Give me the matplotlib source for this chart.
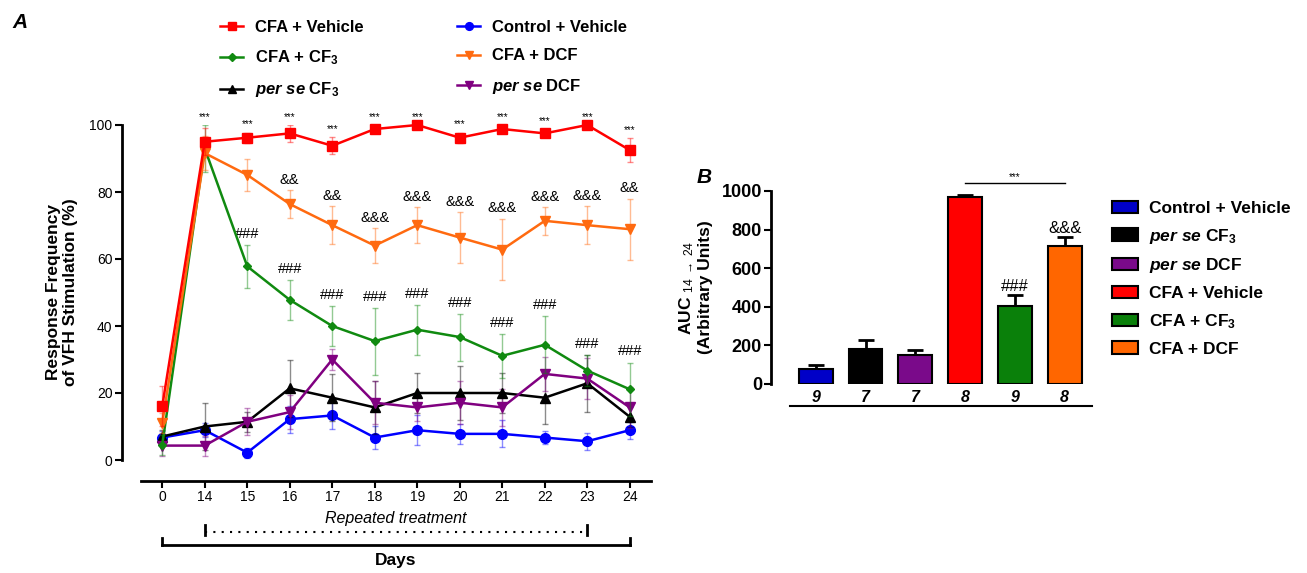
import numpy as np
import matplotlib
matplotlib.use("Agg")
import matplotlib.pyplot as plt
import matplotlib.transforms as mtransforms
from matplotlib.lines import Line2D
from matplotlib.patches import Patch

plt.rcParams['font.family'] = ['Liberation Sans', 'DejaVu Sans']
plt.rcParams['mathtext.fontset'] = 'custom'
plt.rcParams['mathtext.rm'] = 'Liberation Sans'
plt.rcParams['mathtext.it'] = 'Liberation Sans:italic'
plt.rcParams['mathtext.bf'] = 'Liberation Sans:bold'
plt.rcParams['mathtext.bfit'] = 'Liberation Sans:italic:bold'

# ---- panel A data ----
days = ['0', '14', '15', '16', '17', '18', '19', '20', '21', '22', '23', '24']

cfa_veh = [16.1, 95.0, 96.2, 97.5, 93.8, 98.8, 100.0, 96.2, 98.8, 97.5, 100.0, 92.5]
cfa_veh_err = [6.0, 4.0, 1.5, 2.5, 2.5, 1.2, 0.0, 1.5, 1.2, 1.2, 0.0, 3.5]

cfa_dcf = [11.0, 91.6, 85.1, 76.4, 70.1, 64.0, 70.1, 66.4, 62.8, 71.4, 70.1, 68.9]
cfa_dcf_err = [3.0, 5.0, 4.7, 4.2, 5.6, 5.2, 5.4, 7.6, 9.2, 4.1, 5.6, 9.1]

cfa_cf3 = [4.5, 93.0, 57.8, 47.8, 40.0, 35.5, 38.9, 36.7, 31.1, 34.4, 26.7, 21.1]
cfa_cf3_err = [3.0, 7.0, 6.5, 6.0, 6.0, 10.0, 7.5, 7.0, 6.5, 8.5, 4.5, 8.0]

perse_cf3 = [7.0, 10.0, 11.4, 21.4, 18.6, 15.7, 20.0, 20.0, 20.0, 18.6, 22.9, 12.9]
perse_cf3_err = [2.0, 7.0, 3.0, 8.5, 7.0, 8.0, 6.0, 8.0, 6.0, 8.0, 8.5, 3.0]

perse_dcf = [4.3, 4.3, 11.4, 14.3, 30.0, 17.1, 15.7, 17.1, 15.7, 25.7, 24.3, 15.7]
perse_dcf_err = [3.0, 3.0, 4.0, 5.0, 3.0, 6.5, 4.0, 6.5, 5.5, 5.0, 6.0, 6.0]

ctrl_veh = [6.7, 8.9, 2.2, 12.2, 13.3, 6.7, 8.9, 7.8, 7.8, 6.7, 5.6, 8.9]
ctrl_veh_err = [2.0, 2.0, 1.5, 4.0, 4.0, 3.5, 4.5, 3.0, 4.0, 2.0, 2.5, 2.5]

sig_veh = [''] + ['***'] * 11
sig_dcf = ['', '', '', '&&', '&&', '&&&', '&&&', '&&&', '&&&', '&&&', '&&&', '&&']
sig_cf3 = ['', ''] + ['###'] * 10

# ---- panel B data ----
groups = ['Control + Vehicle', r'$\mathbfit{per\ se}$ CF$_\mathbf{3}$', r'$\mathbfit{per\ se}$ DCF',
          'CFA + Vehicle', r'CFA + CF$_\mathbf{3}$', 'CFA + DCF']
auc = [80, 180, 150, 970, 405, 715]
auc_err = [18, 50, 25, 10, 55, 45]
n_per_group = ['9', '7', '7', '8', '9', '8']
bar_colors = ['#0000C8', '#000000', '#7A0A8A', '#FF0000', '#0A800A', '#FF6600']

fig = plt.figure(figsize=(13.07, 5.73), dpi=100)

# ================= Panel A =================
ax = fig.add_axes([141 / 1307, 113 / 573, 510 / 1307, 335 / 573])
x = np.arange(len(days))

series = [
    (cfa_veh, cfa_veh_err, '#FF0000', 's', 7, 'CFA + Vehicle'),
    (cfa_cf3, cfa_cf3_err, '#108A10', 'D', 4.5, r'CFA + CF$_\mathbf{3}$'),
    (perse_cf3, perse_cf3_err, '#000000', '^', 6.5, r'$\mathbfit{per\ se}$ CF$_\mathbf{3}$'),
    (ctrl_veh, ctrl_veh_err, '#0000FF', 'o', 7, 'Control + Vehicle'),
    (cfa_dcf, cfa_dcf_err, '#FF6A10', 'v', 7.5, 'CFA + DCF'),
    (perse_dcf, perse_dcf_err, '#800080', 'v', 6.5, r'$\mathbfit{per\ se}$ DCF'),
]
order_z = {'#FF0000': 6, '#FF6A10': 5, '#108A10': 4, '#800080': 3, '#000000': 3, '#0000FF': 2}
handles = []
for vals, errs, col, mk, ms, lab in series:
    z = order_z[col]
    ax.errorbar(x, vals, yerr=errs, fmt='none', ecolor=col, alpha=0.45,
                elinewidth=1, capsize=2, capthick=1, zorder=z)
    ax.plot(x, vals, color=col, lw=1.8, marker=mk, ms=ms, zorder=z + 0.5, clip_on=False)
    handles.append(Line2D([], [], color=col, lw=1.8, marker=mk, ms=ms * 0.8, label=lab))

for i in range(len(days)):
    top = max(cfa_veh[i] + cfa_veh_err[i], cfa_cf3[i] + cfa_cf3_err[i],
              cfa_dcf[i] + cfa_dcf_err[i])
    if sig_veh[i]:
        ax.text(x[i], top + 1.0, sig_veh[i], ha='center', va='bottom', fontsize=7)
    if sig_dcf[i]:
        ax.text(x[i], cfa_dcf[i] + cfa_dcf_err[i] + 1.0, sig_dcf[i], ha='center',
                va='bottom', fontsize=10.5)
    if sig_cf3[i]:
        t = max(cfa_cf3[i] + cfa_cf3_err[i], perse_cf3[i] + perse_cf3_err[i])
        ax.text(x[i], t + 1.2, sig_cf3[i], ha='center', va='bottom', fontsize=10.5)

ax.set_xlim(-0.5, len(days) - 0.5)
ax.set_ylim(0, 100)
ax.set_yticks([0, 20, 40, 60, 80, 100])
ax.set_xticks(x)
ax.set_xticklabels(days, fontstyle='italic', fontsize=11.5)
for lab in ax.get_yticklabels():
    lab.set_fontweight('bold')
    lab.set_fontsize(13)
ax.spines['top'].set_visible(False)
ax.spines['right'].set_visible(False)
ax.spines['left'].set_position(('outward', 14))
ax.spines['bottom'].set_position(('outward', 15))
ax.spines['left'].set_linewidth(2)
ax.spines['bottom'].set_linewidth(2)
ax.tick_params(axis='both', direction='out', length=5, width=1.5)
ax.tick_params(axis='x', pad=1.5)
ax.tick_params(axis='y', pad=1.5)
ax.set_ylabel('Response Frequency\nof VFH Stimulation (%)', fontsize=12.5,
              fontweight='bold', labelpad=8)

trans = mtransforms.blended_transform_factory(ax.transData, ax.transAxes)
ax.text(5.5, -0.175, 'Repeated treatment', transform=trans, ha='center', va='center',
        fontstyle='italic', fontsize=11.5)
ax.plot([1, 10], [-0.215, -0.215], transform=trans, color='black', lw=1.5,
        ls=(0, (1, 3)), clip_on=False)
for xx in [1, 10]:
    ax.plot([xx, xx], [-0.195, -0.225], transform=trans, color='black', lw=2, clip_on=False)
ax.plot([0, 11], [-0.255, -0.255], transform=trans, color='black', lw=2, clip_on=False)
for xx in [0, 11]:
    ax.plot([xx, xx], [-0.255, -0.232], transform=trans, color='black', lw=2, clip_on=False)
ax.text(5.5, -0.30, 'Days', transform=trans, ha='center', va='center',
        fontweight='bold', fontsize=12.5)

fig.legend(handles=handles, loc='upper left', bbox_to_anchor=(205 / 1307, 1 - 5 / 573),
           ncol=2, frameon=False, prop={'weight': 'bold', 'size': 12},
           handlelength=1.4, handletextpad=0.7, labelspacing=0.8, columnspacing=5.6)

fig.text(12 / 1307, 1 - 22 / 573, 'A', fontsize=15, fontweight='bold', fontstyle='italic',
         va='center')

# ================= Panel B =================
bx = fig.add_axes([771 / 1307, 189 / 573, 321 / 1307, 193 / 573])
xb = np.arange(len(auc))
bx.bar(xb, auc, width=0.68, color=bar_colors, edgecolor='black', linewidth=1.5, zorder=2)
bx.errorbar(xb, auc, yerr=[np.zeros(len(auc)), auc_err], fmt='none', ecolor='black',
            elinewidth=2, capsize=5.5, capthick=2, zorder=1)
bx.set_xlim(-0.9, 5.55)
bx.set_ylim(0, 1000)
bx.set_yticks([0, 200, 400, 600, 800, 1000])
for lab in bx.get_yticklabels():
    lab.set_fontweight('bold')
    lab.set_fontsize(13)
bx.set_xticks(xb)
bx.set_xticklabels(n_per_group, fontweight='bold', fontstyle='italic', fontsize=11.5)
bx.tick_params(axis='x', length=0, pad=4)
bx.tick_params(axis='y', direction='out', length=5, width=1.5, pad=1.5)
bx.spines['top'].set_visible(False)
bx.spines['right'].set_visible(False)
bx.spines['bottom'].set_visible(False)
bx.spines['left'].set_linewidth(2)
transb = mtransforms.blended_transform_factory(bx.transData, bx.transAxes)
bx.plot([-0.52, 5.54], [-0.113, -0.113], transform=transb, color='black', lw=1.5, clip_on=False)

bx.plot([3, 5], [1040, 1040], color='black', lw=1, clip_on=False)
bx.text(4, 1048, '***', ha='center', va='bottom', fontsize=7)
bx.text(4, auc[4] + auc_err[4] + 5, '###', ha='center', va='bottom', fontsize=12)
bx.text(5, auc[5] + auc_err[5] + 8, '&&&', ha='center', va='bottom', fontsize=12)
bx.set_ylabel('AUC $_{\\mathrm{14}\\ \\rightarrow\\ \\mathrm{24}}$\n(Arbitrary Units)',
              fontsize=12.5, fontweight='bold', labelpad=6)

patches = [Patch(facecolor=c, edgecolor='black', linewidth=1.5, label=g)
           for c, g in zip(bar_colors, groups)]
fig.legend(handles=patches, loc='upper left', bbox_to_anchor=(1096 / 1307, 1 - 185 / 573),
           frameon=False, prop={'weight': 'bold', 'size': 12.5}, handlelength=1.5,
           handleheight=0.7, handletextpad=0.65, labelspacing=0.62)

fig.text(697 / 1307, 1 - 178 / 573, 'B', fontsize=15, fontweight='bold', fontstyle='italic',
         va='center')

fig.savefig('out.png', dpi=100)
